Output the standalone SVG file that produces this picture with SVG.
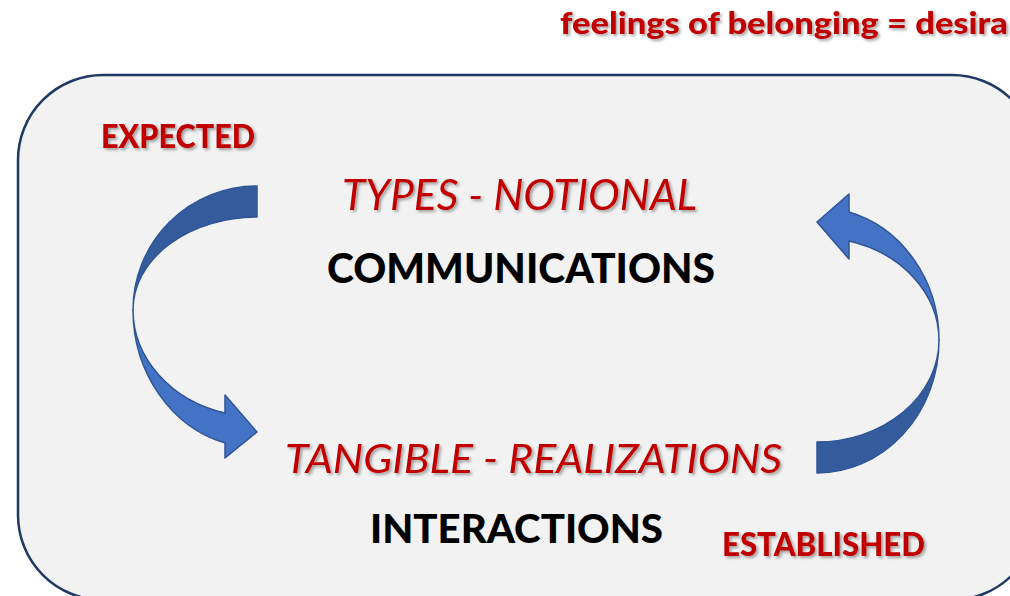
<svg xmlns="http://www.w3.org/2000/svg" width="1010" height="596" viewBox="0 0 1010 596">
  <defs>
    <filter id="shadow" x="-10%" y="-30%" width="120%" height="160%">
      <feDropShadow dx="2" dy="2" stdDeviation="1.5" flood-color="#000" flood-opacity="0.35"/>
    </filter>
    <style>
      .red { fill: #C00000; font-family: Lato, "Open Sans", sans-serif; filter: url(#shadow); }
      .bold { font-weight: 900; }
      .ital { font-style: italic; }
      .black { fill: #000; font-family: Lato, "Open Sans", sans-serif; font-weight: 900; }
      .dark { fill: #345C9D; stroke: #2F5597; stroke-width: 1.5; stroke-linejoin: round; }
      .light { fill: #4472C4; stroke: #2F5597; stroke-width: 1.5; stroke-linejoin: round; }
    </style>
  </defs>
  <rect width="1010" height="596" fill="#FFFFFF"/>
  <g id="frame">
    <rect x="18" y="75" width="1019" height="525" rx="85" ry="85" fill="#F2F2F2" stroke="#1F3864" stroke-width="2.5"/>
  </g>
  <g id="title">
    <text class="red bold" x="560" y="34" font-size="31" textLength="448" lengthAdjust="spacingAndGlyphs">feelings of belonging = desira</text>
  </g>
  <g id="label-expected">
    <text class="red bold" x="101" y="148" font-size="32" textLength="154" lengthAdjust="spacingAndGlyphs">EXPECTED</text>
  </g>
  <g id="label-established">
    <text class="red bold" x="722" y="556" font-size="32" textLength="203" lengthAdjust="spacingAndGlyphs">ESTABLISHED</text>
  </g>
  <g id="node-communications">
    <text class="red ital" x="342" y="210" font-size="42" textLength="355" lengthAdjust="spacingAndGlyphs">TYPES - NOTIONAL</text>
    <text class="black" x="327" y="283" font-size="41" textLength="388" lengthAdjust="spacingAndGlyphs">COMMUNICATIONS</text>
  </g>
  <g id="node-interactions">
    <text class="red ital" x="285" y="473" font-size="40" textLength="497" lengthAdjust="spacingAndGlyphs">TANGIBLE - REALIZATIONS</text>
    <text class="black" x="370" y="543" font-size="40" textLength="293" lengthAdjust="spacingAndGlyphs">INTERACTIONS</text>
  </g>
  <g id="connectors">
    <g id="arrow-left">
      <path class="dark" d="M 257,186 A 124,124 0 0 0 133,310 A 124,93 0 0 1 257,217 Z"/>
      <path class="light" d="M 133,310 A 124,138 0 0 0 225,443 L 225,458 L 257,432 L 225,395 L 225,413 A 124,107 0 0 1 133,310 Z"/>
    </g>
    <g id="arrow-right">
      <path class="dark" d="M 817,473 A 122,133 0 0 0 939,340 A 122,102 0 0 1 817,442 Z"/>
      <path class="light" d="M 939,340 A 122,133 0 0 0 849,212 L 849,194 L 817,222 L 849,259 L 849,241 A 122,103 0 0 1 939,340 Z"/>
    </g>
  </g>
</svg>
